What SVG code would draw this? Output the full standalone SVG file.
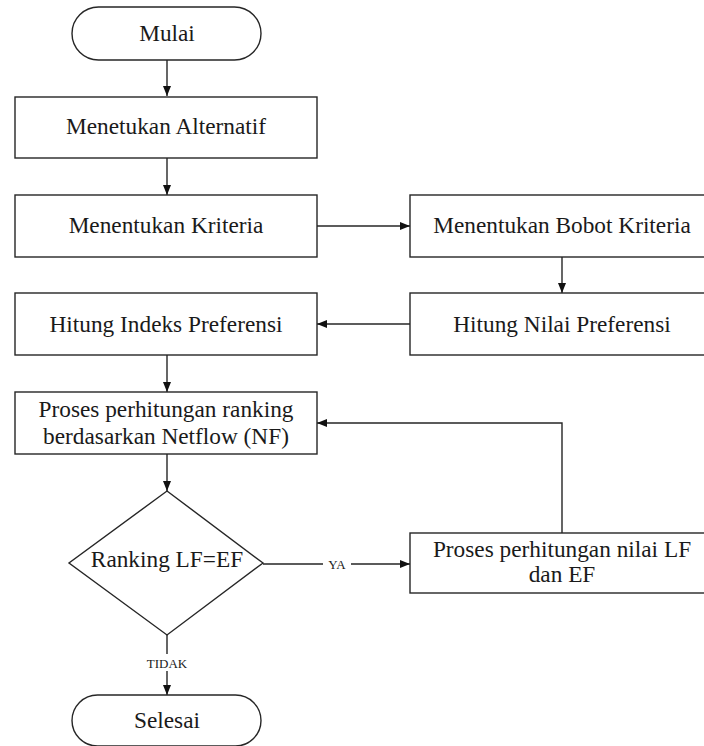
<svg xmlns="http://www.w3.org/2000/svg" width="704" height="746" viewBox="0 0 704 746">
<style>
.s{fill:#fff;stroke:#262626;stroke-width:1.4}
.t{font-size:23.3px;fill:#1a1a1a;text-anchor:middle}
.l{font-size:13px;fill:#1a1a1a;text-anchor:middle}
.c{fill:none;stroke:#262626;stroke-width:1.4}
</style>
<defs>
<marker id="a" viewBox="0 0 10 10" refX="10" refY="5" markerWidth="10" markerHeight="10" markerUnits="userSpaceOnUse" orient="auto">
<path d="M0,1 L10,5 L0,9 Z" fill="#111"/>
</marker>
</defs>
<rect width="704" height="746" fill="#fff"/>
<g id="connectors">
<path class="c" d="M167,60 V96" marker-end="url(#a)"/>
<path class="c" d="M167,158 V195" marker-end="url(#a)"/>
<path class="c" d="M317,226 H410" marker-end="url(#a)"/>
<path class="c" d="M562,257 V293" marker-end="url(#a)"/>
<path class="c" d="M410,324 H317" marker-end="url(#a)"/>
<path class="c" d="M167,355 V392" marker-end="url(#a)"/>
<path class="c" d="M167,454 V491" marker-end="url(#a)"/>
<path class="c" d="M263,564 H323 M351,564 H410" marker-end="url(#a)"/>
<path class="c" d="M562,533 V423 H317" marker-end="url(#a)"/>
<path class="c" d="M167,635 V654 M167,671 V695" marker-end="url(#a)"/>
<text class="l" x="337" y="568.5" font-family="Liberation Serif, serif">YA</text>
<text class="l" x="167" y="667.5" font-family="Liberation Serif, serif">TIDAK</text>
</g>
<g id="mulai">
<rect class="s" x="72" y="7" width="189" height="53" rx="26.5"/>
<text class="t" x="167" y="40.5" font-family="Liberation Serif, serif">Mulai</text>
</g>
<g id="alternatif">
<rect class="s" x="15" y="97" width="302" height="61"/>
<text class="t" x="166" y="134" font-family="Liberation Serif, serif">Menetukan Alternatif</text>
</g>
<g id="kriteria">
<rect class="s" x="15" y="195" width="302" height="62"/>
<text class="t" x="166" y="233" font-family="Liberation Serif, serif">Menentukan Kriteria</text>
</g>
<g id="bobot">
<rect class="s" x="410" y="195" width="304" height="62"/>
<text class="t" x="562" y="233" font-family="Liberation Serif, serif">Menentukan Bobot Kriteria</text>
</g>
<g id="nilai">
<rect class="s" x="410" y="293" width="304" height="62"/>
<text class="t" x="562" y="331.5" font-family="Liberation Serif, serif">Hitung Nilai Preferensi</text>
</g>
<g id="indeks">
<rect class="s" x="15" y="293" width="302" height="62"/>
<text class="t" x="166" y="331.5" font-family="Liberation Serif, serif">Hitung Indeks Preferensi</text>
</g>
<g id="ranking">
<rect class="s" x="15" y="392" width="302" height="62"/>
<text class="t" x="166" y="417" font-family="Liberation Serif, serif">Proses perhitungan ranking</text>
<text class="t" x="166" y="444" font-family="Liberation Serif, serif">berdasarkan Netflow (NF)</text>
</g>
<g id="keputusan">
<path class="s" d="M167,491 L263,563 L167,635 L69,563 Z"/>
<text class="t" x="167" y="567" font-family="Liberation Serif, serif">Ranking LF=EF</text>
</g>
<g id="lfef">
<rect class="s" x="410" y="533" width="304" height="60"/>
<text class="t" x="562" y="557" font-family="Liberation Serif, serif">Proses perhitungan nilai LF</text>
<text class="t" x="562" y="582" font-family="Liberation Serif, serif">dan EF</text>
</g>
<g id="selesai">
<rect class="s" x="72" y="695" width="189" height="51" rx="25.5"/>
<text class="t" x="167" y="728" font-family="Liberation Serif, serif">Selesai</text>
</g>
</svg>
